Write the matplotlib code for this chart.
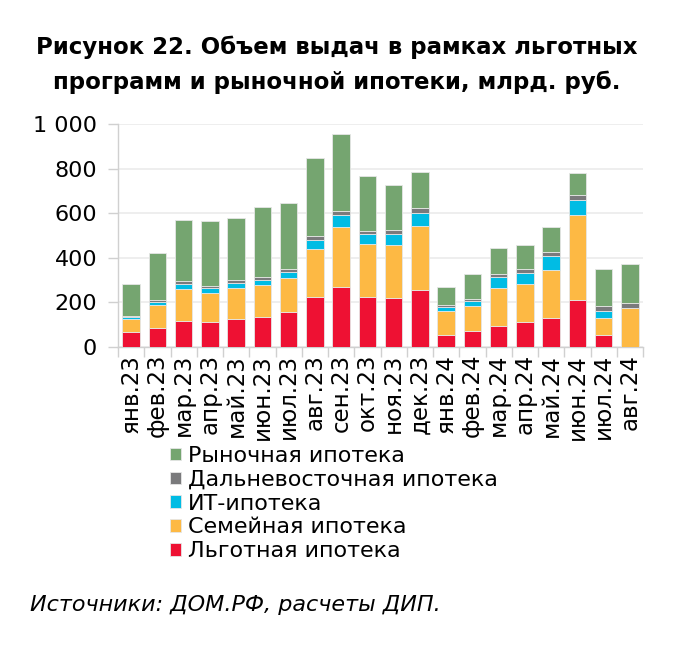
import matplotlib
matplotlib.use("Agg")
import matplotlib.pyplot as plt
import numpy as np

months = ["янв.23", "фев.23", "мар.23", "апр.23", "май.23", "июн.23", "июл.23",
          "авг.23", "сен.23", "окт.23", "ноя.23", "дек.23", "янв.24", "фев.24",
          "мар.24", "апр.24", "май.24", "июн.24", "июл.24", "авг.24"]

lgotnaya = [69, 85, 118, 111, 124, 135, 158, 223, 268, 224, 220, 257, 54, 70, 94, 111, 130, 209, 52, 0]
semeynaya = [57, 105, 144, 133, 142, 143, 151, 218, 272, 238, 239, 284, 106, 114, 172, 172, 214, 384, 77, 173]
it_ipoteka = [9, 10, 21, 19, 22, 22, 27, 39, 52, 43, 48, 60, 18, 24, 46, 50, 63, 68, 32, 0]
dalnevost = [4, 9, 11, 11, 12, 14, 14, 16, 19, 15, 16, 21, 9, 9, 15, 17, 18, 19, 21, 23]
rynochnaya = [144, 212, 276, 291, 280, 312, 296, 353, 344, 248, 202, 163, 81, 112, 115, 109, 115, 102, 166, 175]

series = [
    ("Льготная ипотека", lgotnaya, "#EE1133"),
    ("Семейная ипотека", semeynaya, "#FDB944"),
    ("ИТ-ипотека", it_ipoteka, "#00BCE4"),
    ("Дальневосточная ипотека", dalnevost, "#7A7A7C"),
    ("Рыночная ипотека", rynochnaya, "#75A570"),
]

plt.rcParams["font.family"] = ["DejaVu Sans"]

fig = plt.figure(figsize=(6.81, 6.46), dpi=100)
ax = fig.add_axes([118 / 681, 1 - 347 / 646, (643 - 118) / 681, (347 - 124) / 646])

x = np.arange(len(months))
bottom = np.zeros(len(months))
handles = []
for name, vals, col in series:
    v = np.array(vals, dtype=float)
    b = ax.bar(x, v, bottom=bottom, width=0.66, color=col, edgecolor="#E6E6E6", linewidth=0.6, label=name, zorder=3)
    handles.append(b)
    bottom += v

ax.set_xlim(-0.5, len(months) - 0.5)
ax.set_ylim(0, 1000)
ax.set_yticks(np.arange(0, 1001, 200))
ax.set_yticklabels(["0", "200", "400", "600", "800", "1 000"], fontsize=16)
ax.yaxis.grid(True, color="#EBEBEB", linewidth=1.2, zorder=0)
ax.set_xticks(x)
ax.set_xticklabels(months, rotation=90, fontsize=16.5)
ax.tick_params(axis="x", length=0, pad=5)
ax.set_xticks(np.arange(-0.5, len(months), 1), minor=True)
ax.tick_params(axis="x", which="minor", length=7, color="#D0D0D0", width=1)
ax.tick_params(axis="y", length=7, color="#D0D0D0", width=1, pad=8)
for s in ["top", "right"]:
    ax.spines[s].set_visible(False)
ax.spines["left"].set_color("#D0D0D0")
ax.spines["bottom"].set_color("#D0D0D0")
ax.spines["left"].set_linewidth(1)
ax.spines["bottom"].set_linewidth(1)

fig.text(0.495, 1 - 47 / 646, "Рисунок 22. Объем выдач в рамках льготных", ha="center", va="center",
         fontsize=16.5, fontweight="bold")
fig.text(0.495, 1 - 82 / 646, "программ и рыночной ипотеки, млрд. руб.", ha="center", va="center",
         fontsize=16.5, fontweight="bold")

leg = fig.legend(handles[::-1], [s[0] for s in series][::-1], loc="upper left",
                 bbox_to_anchor=(170 / 681, 1 - 446 / 646), frameon=False, fontsize=16,
                 handlelength=0.5, handleheight=0.5, handletextpad=0.3, labelspacing=0.17,
                 borderaxespad=0, borderpad=0)

fig.text(30 / 681, 1 - 605 / 646, "Источники: ДОМ.РФ, расчеты ДИП.", ha="left", va="center",
         fontsize=16, style="italic")

fig.savefig("out.png", dpi=100)
